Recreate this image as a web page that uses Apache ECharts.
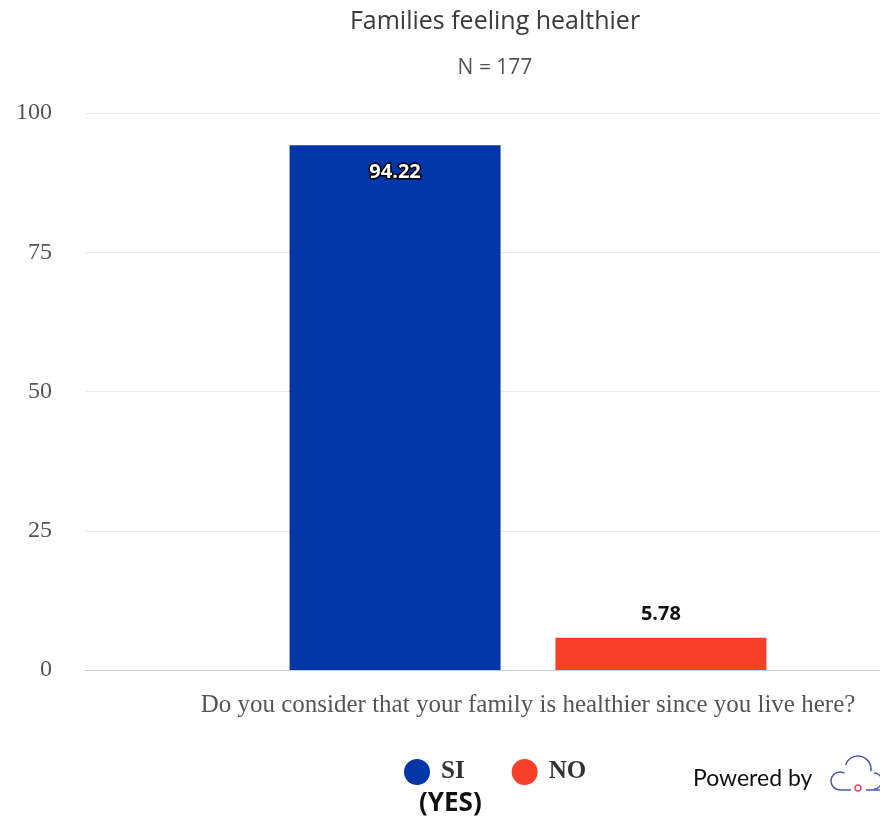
<!DOCTYPE html>
<html>
<head>
<meta charset="utf-8">
<script src="https://cdn.jsdelivr.net/npm/echarts@6/dist/echarts.min.js"></script>
<style>html,body{margin:0;padding:0;background:#fff;}#c{width:880px;height:821px;}</style>
</head>
<body>
<div id="c"></div>
<script>
const categories = ['Do you consider that your family is healthier since you live here?'];
const seriesNames = ['SI', 'NO'];
const siValues = [94.22];
const noValues = [5.78];
const yTicks = [0, 25, 50, 75, 100];

const chart = echarts.init(document.getElementById('c'));
const serif = '"Liberation Serif", "DejaVu Serif", serif';
const cloudStroke = { fill: 'none', stroke: '#4a5aa8', lineWidth: 1.5 };
chart.setOption({
  animation: false,
  title: [
    { text: 'Families feeling healthier', left: 490, top: 4, textAlign: 'center',
      textStyle: { fontFamily: '"Open Sans", sans-serif', fontSize: 25, fontWeight: 'normal', color: '#3a3a3a' } },
    { text: 'N = 177', left: 490, top: 53, textAlign: 'center',
      textStyle: { fontFamily: '"Open Sans", sans-serif', fontSize: 21, fontWeight: 'normal', color: '#555' } }
  ],
  legend: {
    data: seriesNames, left: 404, top: 759, padding: 0, icon: 'circle', itemWidth: 26, itemHeight: 26,
    itemGap: 47,
    textStyle: { fontFamily: serif, fontSize: 25, fontWeight: 'bold', color: '#333', padding: [0, 0, 0, 6] }
  },
  grid: { left: 85, right: -91, top: 113, bottom: 151, containLabel: false, outerBoundsMode: 'none' },
  xAxis: {
    type: 'category', data: categories,
    axisLine: { lineStyle: { color: '#c5cae6', width: 1 } },
    axisTick: { show: false },
    axisLabel: { fontFamily: serif, fontSize: 25, color: '#555', margin: 23 }
  },
  yAxis: {
    type: 'value', min: yTicks[0], max: yTicks[yTicks.length - 1], interval: 25,
    axisLine: { show: false }, axisTick: { show: false },
    splitLine: { lineStyle: { color: '#e9e9e9' } },
    axisLabel: { fontFamily: serif, fontSize: 24, color: '#555', margin: 33 }
  },
  series: [
    { name: seriesNames[0], type: 'bar', data: siValues, barWidth: 211, barGap: '26%',
      itemStyle: { color: '#0336a6' },
      label: { show: true, position: 'insideTop', distance: 17, formatter: p => p.value.toFixed(2),
        fontFamily: '"Open Sans", sans-serif', fontWeight: 'bold', fontSize: 20,
        color: '#fff', textBorderColor: '#000', textBorderWidth: 3 } },
    { name: seriesNames[1], type: 'bar', data: noValues, barWidth: 211,
      itemStyle: { color: '#f83f27' },
      label: { show: true, position: 'top', distance: 14, formatter: p => p.value.toFixed(2),
        fontFamily: '"Open Sans", sans-serif', fontWeight: 'bold', fontSize: 20, color: '#111' } }
  ],
  graphic: [
    { type: 'text', x: 419, y: 791,
      style: { text: '(YES)', font: 'bold 26px "Open Sans", sans-serif', fill: '#111' } },
    { type: 'text', x: 693, y: 767,
      style: { text: 'Powered by', font: '23px "Lato", sans-serif', fill: '#111' } },
    { type: 'arc', shape: { cx: 840, cy: 781, r: 9, startAngle: Math.PI / 2, endAngle: Math.PI * 5 / 3, clockwise: true }, style: cloudStroke },
    { type: 'arc', shape: { cx: 858, cy: 769, r: 13, startAngle: Math.PI * 1.1, endAngle: Math.PI * 2.05, clockwise: true }, style: cloudStroke },
    { type: 'arc', shape: { cx: 874, cy: 781, r: 8, startAngle: -Math.PI / 2, endAngle: Math.PI / 2, clockwise: true }, style: cloudStroke },
    { type: 'line', shape: { x1: 840, y1: 790, x2: 851, y2: 790 }, style: cloudStroke },
    { type: 'line', shape: { x1: 866, y1: 790, x2: 880, y2: 790 }, style: cloudStroke },
    { type: 'circle', shape: { cx: 858, cy: 788, r: 3 },
      style: { fill: 'none', stroke: '#e0506a', lineWidth: 1.5 } }
  ]
});
</script>
</body>
</html>
